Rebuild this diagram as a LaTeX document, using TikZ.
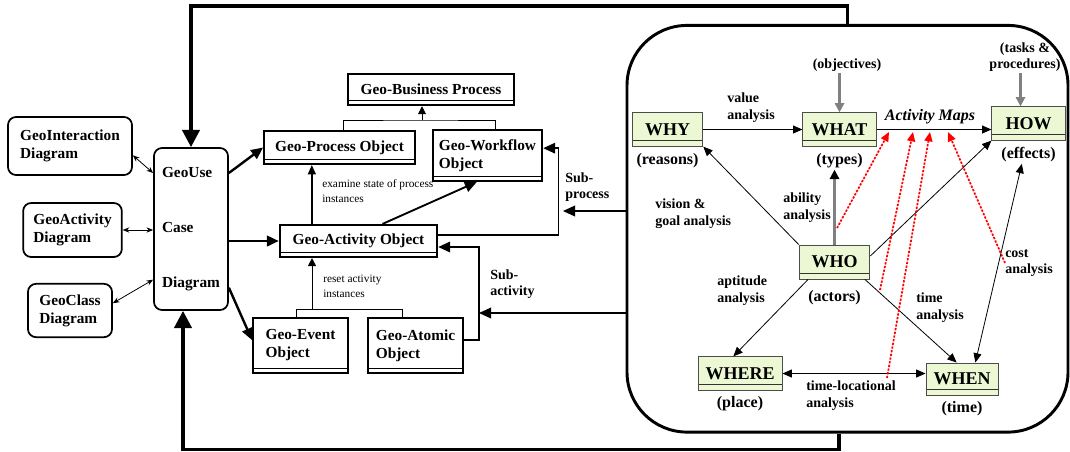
\documentclass[tikz,border=0pt]{standalone}
\usepackage{fontspec}
\setmainfont{Liberation Serif}
\usetikzlibrary{arrows.meta,positioning}
\definecolor{mapgreen}{RGB}{236,248,212}
\newcommand{\boxfont}{\bfseries\fontsize{11.5}{13.5}\selectfont}
\newcommand{\mapfont}{\bfseries\fontsize{13.5}{15}\selectfont}
\newcommand{\labfont}{\bfseries\fontsize{10.5}{12.5}\selectfont}
\tikzset{
  diagbox/.style={draw, line width=1.3pt, rounded corners=6pt, align=left, font=\boxfont, inner sep=2pt},
  objbox/.style={draw, line width=1.6pt, align=left, font=\boxfont, inner sep=2pt,
    path picture={\draw[line width=0.5pt] ([yshift=3.5pt]path picture bounding box.south west) -- ([yshift=3.5pt]path picture bounding box.south east);}},
  mapbox/.style={draw=black!70, fill=mapgreen, line width=0.7pt, font=\mapfont, inner sep=2pt,
    path picture={\draw[line width=0.6pt, black!80] ([yshift=4pt]path picture bounding box.south west) -- ([yshift=4pt]path picture bounding box.south east);}},
  caption/.style={font=\bfseries\fontsize{12}{14}\selectfont, align=center, inner sep=1pt},
  topcaption/.style={font=\labfont, align=center, inner sep=1pt},
  edgelabel/.style={font=\labfont, align=left, inner sep=0pt, anchor=west},
  note/.style={font=\fontsize{8.5}{11}\selectfont, align=left, inner sep=0pt, anchor=west},
  panel/.style={draw, line width=2.2pt, rounded corners=45pt},
  looparrow/.style={-{Triangle[length=13pt,width=13pt]}, line width=2.6pt},
  bigarrow/.style={-{Triangle[length=9pt,width=8pt]}, line width=1.8pt},
  medarrow/.style={-{Triangle[length=7pt,width=6pt]}, line width=1.1pt},
  subarrow/.style={-{Triangle[length=9pt,width=8pt]}, line width=1.1pt},
  genarrow/.style={-{Triangle[length=6pt,width=6pt]}, line width=0.7pt},
  plainline/.style={line width=0.7pt},
  linkarrow/.style={{Stealth[length=5pt,width=4pt]}-{Stealth[length=5pt,width=4pt]}, line width=0.6pt},
  maparrow/.style={-{Triangle[length=7pt,width=6pt]}, line width=0.6pt},
  mapboth/.style={{Triangle[length=7pt,width=6pt]}-{Triangle[length=7pt,width=6pt]}, line width=0.6pt},
  grayarrow/.style={-{Triangle[length=7pt,width=7pt]}, draw=gray, fill=gray, line width=1.6pt},
  grayblack/.style={-{Triangle[length=7pt,width=7pt,black]}, draw=gray, line width=1.6pt},
  redarrow/.style={-{Triangle[length=7pt,width=6pt]}, draw=red, fill=red, line width=1.3pt, dash pattern=on 1.6pt off 1.2pt}
}
\begin{document}
\begin{tikzpicture}[x=0.75pt, y=-0.75pt]
  \useasboundingbox (0,0) rectangle (1070,451);

  % left column
  \node[diagbox, minimum width=93pt, minimum height=43.5pt] (interdiag) at (70,146) {GeoInteraction\\Diagram};
  \node[diagbox, minimum width=74pt, minimum height=40.5pt] (actdiag) at (72.5,230) {GeoActivity\\Diagram};
  \node[diagbox, minimum width=63pt, minimum height=40pt] (classdiag) at (70,310.5) {GeoClass\\Diagram};
  \node[diagbox, minimum width=55.5pt, minimum height=121.5pt] (usecase) at (191,229) {GeoUse\\[28pt]Case\\[28pt]Diagram};

  % geo objects
  \node[objbox, minimum width=124.5pt, minimum height=23.5pt] (bizobj) at (431,89.5) {Geo-Business Process};
  \node[objbox, minimum width=113pt, minimum height=24.75pt] (procobj) at (339.5,147.5) {Geo-Process Object};
  \node[objbox, minimum width=82pt, minimum height=38pt] (wfobj) at (487.5,155.5) {Geo-Workflow\\Object};
  \node[objbox, minimum width=118pt, minimum height=24pt] (actobj) at (358.5,241) {Geo-Activity Object};
  \node[objbox, minimum width=71pt, minimum height=41pt] (eventobj) at (300.5,345.5) {Geo-Event\\Object};
  \node[objbox, minimum width=71pt, minimum height=41pt] (atomobj) at (415.5,345.5) {Geo-Atomic\\Object};

  % activity map panel
  \node[panel, minimum width=330.75pt, minimum height=305pt] (panel) at (847.5,228.75) {};
  \node[mapbox, minimum width=53pt, minimum height=25pt] (why) at (667.5,129.5) {WHY};
  \node[mapbox, minimum width=55pt, minimum height=25pt] (what) at (839.5,129.5) {WHAT};
  \node[mapbox, minimum width=55pt, minimum height=25pt] (how) at (1028.5,123.5) {HOW};
  \node[mapbox, minimum width=53pt, minimum height=25.5pt] (who) at (834.5,262) {WHO};
  \node[mapbox, minimum width=63pt, minimum height=25pt] (where) at (740,373.5) {WHERE};
  \node[mapbox, minimum width=54pt, minimum height=24pt] (when) at (962,379) {WHEN};

  \node[caption, below=4pt of why] (reasons) {(reasons)};
  \node[caption, below=4pt of what] (types) {(types)};
  \node[caption, below=4pt of how] (effects) {(effects)};
  \node[caption, below=7pt of who] (actors) {(actors)};
  \node[caption, below=3pt of where] (place) {(place)};
  \node[caption, below=3pt of when] (timecap) {(time)};
  \node[topcaption] (objectives) at (847,65) {(objectives)};
  \node[topcaption] (tasks) at (1025,57) {(tasks \&\\procedures)};
  \node[font=\bfseries\itshape\fontsize{12}{14}\selectfont, inner sep=0pt] (maps) at (930,117) {Activity Maps};

  \node[edgelabel] (valuelab) at (727,107.5) {value\\analysis};
  \node[edgelabel] (visionlab) at (655,213.5) {vision \&\\goal analysis};
  \node[edgelabel] (abilitylab) at (783,207.5) {ability\\analysis};
  \node[edgelabel] (aptlab) at (717,290.5) {aptitude\\analysis};
  \node[edgelabel] (timelab) at (916,307.5) {time\\analysis};
  \node[edgelabel] (costlab) at (1005,263) {cost\\analysis};
  \node[edgelabel] (loclab) at (806,395.5) {time-locational\\analysis};
  \node[edgelabel] (subproclab) at (565,187) {Sub-\\process};
  \node[edgelabel] (subactlab) at (490,284) {Sub-\\activity};
  \node[note] (examlab) at (322,191) {examine state of process\\instances};
  \node[note] (resetlab) at (323,286.5) {reset activity\\instances};

  % outer loop
  \draw[looparrow] (panel.north) -- ++(0,-18) -| (usecase.north);
  \draw[looparrow] ([xshift=-6.4pt]panel.south) -- ++(0,16) -| ([xshift=-6pt]usecase.south);

  % use case links
  \draw[linkarrow] ([yshift=-7pt]interdiag.east) -- ([yshift=42pt]usecase.west);
  \draw[linkarrow] (actdiag.east) -- (usecase.west |- actdiag.east);
  \draw[linkarrow] ([yshift=5.5pt]classdiag.east) -- ([yshift=-38pt]usecase.west);
  \draw[bigarrow] ([yshift=42pt]usecase.east) -- (procobj.west);
  \draw[bigarrow] (usecase.east |- actobj.west) -- (actobj.west);
  \draw[bigarrow] ([yshift=-44pt]usecase.east) -- ([yshift=4pt]eventobj.west);

  % generalisations
  \coordinate (bizjoin) at (422,120);
  \draw[plainline] ([xshift=3pt]procobj.north) |- (bizjoin) -| ([xshift=6pt]wfobj.north);
  \draw[genarrow] (bizjoin) -- (bizjoin |- bizobj.south);
  \coordinate (actjoin) at (312,309);
  \draw[plainline] ([xshift=-3pt]eventobj.north) |- (actjoin) -| ([xshift=-10pt]atomobj.north);
  \draw[genarrow] (actjoin) -- (actjoin |- actobj.south);
  \draw[medarrow] ([xshift=-35pt]actobj.north) -- ([xshift=-35pt]actobj.north |- procobj.south);
  \draw[bigarrow, line width=1.4pt] ([xshift=18pt]actobj.north) -- ([xshift=-8pt]wfobj.south);

  % sub-process and sub-activity
  \draw[subarrow] ([yshift=4.5pt]actobj.east) -- ++(120,0) |- ([yshift=5.5pt]wfobj.east);
  \draw[subarrow] ([yshift=4pt]atomobj.east) -- ++(15,0) |- ([yshift=-4.5pt]actobj.east);
  \coordinate (subproc) at (563,211);
  \coordinate (subact) at (479,313);
  \draw[subarrow] (panel.west |- subproc) -- (subproc);
  \draw[subarrow] (panel.west |- subact) -- (subact);

  % activity map
  \draw[maparrow] (why.east) -- (what.west);
  \draw[maparrow] (what.east) -- (what.east -| how.west);
  \draw[grayarrow] (what.north |- objectives.south) -- (what.north);
  \draw[grayarrow] ([xshift=-6pt]how.north |- tasks.south) -- ([xshift=-6pt]how.north);
  \draw[grayblack] (who.north) -- (who.north |- types.south);
  \draw[maparrow] (who.north west) -- (why.south east);
  \draw[maparrow] ([yshift=4.5pt]who.east) -- (how.south west);
  \draw[maparrow] ([xshift=7pt]who.south west) -- ([xshift=-5pt]where.north);
  \draw[maparrow] ([xshift=-4pt]who.south east) -- ([xshift=-4pt]when.north);
  \draw[mapboth] ([xshift=10pt]when.north) -- ([xshift=-5pt]effects.south);
  \draw[mapboth] (where.east) -- (where.east -| when.west);

  % red dotted links to the activity maps
  \coordinate (r1) at (837,228);
  \coordinate (r2) at (880,290);
  \coordinate (r3) at (887,378);
  \coordinate (m1) at (889,132);
  \coordinate (m2) at (913,132);
  \coordinate (m3) at (930,132);
  \coordinate (m4) at (948,132);
  \foreach \a/\b in {r1/m1,r2/m2,r3/m3,costlab.west/m4}
    \draw[redarrow] (\a) -- (\b);
\end{tikzpicture}
\end{document}
